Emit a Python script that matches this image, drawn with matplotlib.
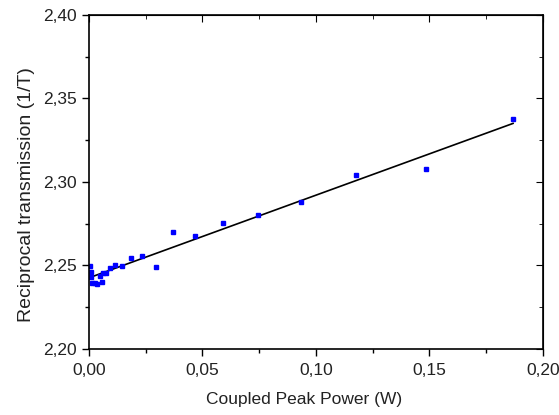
import matplotlib
matplotlib.use('Agg')
import matplotlib.pyplot as plt
from matplotlib.ticker import MultipleLocator, FuncFormatter
import numpy as np

plt.rcParams['font.family'] = ['Liberation Sans', 'DejaVu Sans']

# potencia acoplada (W) y transmision reciproca (1/T)
potencia = [0.0004, 0.0008, 0.0010, 0.0013, 0.0026, 0.0035, 0.0048, 0.0057,
            0.0061, 0.0075, 0.0093, 0.0115, 0.0145, 0.0185, 0.0233, 0.0295,
            0.0370, 0.0467, 0.0589, 0.0743, 0.0934, 0.1179, 0.1485, 0.1869]
transmision = [2.2497, 2.2461, 2.2430, 2.2395, 2.2395, 2.2389, 2.2437, 2.2401,
               2.2455, 2.2455, 2.2485, 2.2503, 2.2497, 2.2545, 2.2557, 2.2491,
               2.2700, 2.2677, 2.2753, 2.2802, 2.2878, 2.3042, 2.3076, 2.3375]


def coma(v, pos):
    return ('%.2f' % v).replace('.', ',')


fig = plt.figure(figsize=(5.59, 4.15), dpi=100)
ax = fig.add_axes([0.159, 0.159, 0.812, 0.805])

# ajuste lineal
m, b = np.polyfit(potencia, transmision, 1)
xs = np.array([0, max(potencia)])
ax.plot(xs, m * xs + b, color='black', lw=1.2)
ax.plot(potencia, transmision, 's', color='blue', ms=3.5, mec='blue')

ax.set_xlim(0, 0.20)
ax.set_ylim(2.20, 2.40)
ax.xaxis.set_major_locator(MultipleLocator(0.05))
ax.xaxis.set_minor_locator(MultipleLocator(0.025))
ax.yaxis.set_major_locator(MultipleLocator(0.05))
ax.yaxis.set_minor_locator(MultipleLocator(0.025))
ax.xaxis.set_major_formatter(FuncFormatter(coma))
ax.yaxis.set_major_formatter(FuncFormatter(coma))

ax.tick_params(which='both', direction='out', labelsize=12.5, width=1,
               labelcolor='#222222')
ax.tick_params(which='major', length=5)
ax.tick_params(which='minor', length=3)
ax.tick_params(axis='x', pad=5)
# ejes secundarios con marcas hacia adentro
top = ax.secondary_xaxis('top')
top.xaxis.set_major_locator(MultipleLocator(0.05))
top.xaxis.set_minor_locator(MultipleLocator(0.025))
top.tick_params(which='both', direction='in', labeltop=False)
top.tick_params(which='major', length=5)
top.tick_params(which='minor', length=3)
right = ax.secondary_yaxis('right')
right.yaxis.set_major_locator(MultipleLocator(0.05))
right.yaxis.set_minor_locator(MultipleLocator(0.025))
right.tick_params(which='both', direction='in', labelright=False)
right.tick_params(which='major', length=5)
right.tick_params(which='minor', length=3)

for s in ax.spines.values():
    s.set_linewidth(1.2)

ax.set_xlabel('Coupled Peak Power (W)', fontsize=12.5, labelpad=10,
              color='#222222')
ax.set_ylabel('Reciprocal transmission (1/T)', fontsize=14, labelpad=6,
              color='#222222')
ax.xaxis.label.set_x(0.474)
ax.yaxis.label.set_y(0.461)

plt.savefig('out.png', dpi=100)
